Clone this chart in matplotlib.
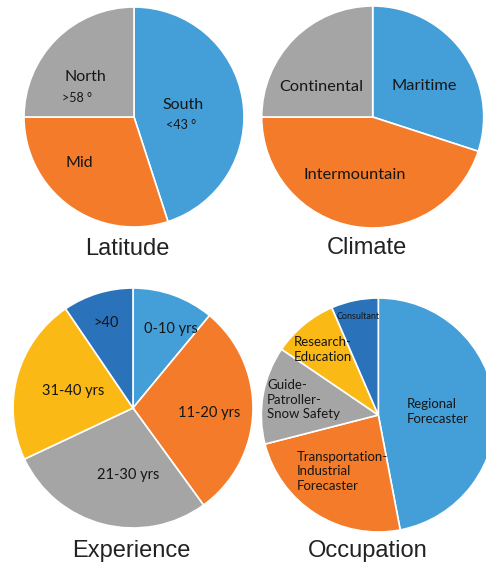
import matplotlib.pyplot as plt

plt.rcParams['font.family'] = ['Lato', 'DejaVu Sans']

W, H = 486, 562

# Цвета секторов
BLUE = '#449FD8'
ORANGE = '#F37B29'
GRAY = '#A6A5A5'
YELLOW = '#FBB916'
DARK = '#2A72BA'

# Данные
lat_labels = ['South\n<43 °', 'Mid', 'North\n>58 °']
lat_values = [45, 30, 25]

climate_labels = ['Maritime', 'Intermountain', 'Continental']
climate_values = [30, 45, 25]

exp_labels = ['0-10 yrs', '11-20 yrs', '21-30 yrs', '31-40 yrs', '>40']
exp_values = [11, 29, 28, 22.5, 9.5]

occ_labels = ['Regional\nForecaster', 'Transportation-\nIndustrial\nForecaster',
              'Guide-\nPatroller-\nSnow Safety', 'Research-\nEducation', 'Consultant']
occ_values = [47, 24, 13.5, 9, 6.5]

fig = plt.figure(figsize=(W / 100, H / 100), dpi=100)


def pie(cx, cy, r, values, colors, title, tx, ty):
    # оси в пикселях: квадрат вокруг центра круга
    ax = fig.add_axes([(cx - r) / W, 1 - (cy + r) / H, 2 * r / W, 2 * r / H])
    ax.pie(values, colors=colors, startangle=90, counterclock=False, radius=1,
           wedgeprops=dict(edgecolor='white', linewidth=1.2))
    ax.set_xlim(-1, 1)
    ax.set_ylim(-1, 1)
    ax.set_aspect('auto')
    ax.axis('off')
    fig.text(tx / W, 1 - ty / H, title, family='Liberation Sans', fontsize=17,
             ha='center', va='baseline', color='#222222')
    return ax


ax1 = pie(134, 117, 110, lat_values, [BLUE, ORANGE, GRAY], 'Latitude', 127.5, 255)
ax2 = pie(372.7, 117, 111, climate_values, [BLUE, ORANGE, GRAY], 'Climate', 367.3, 254.3)
ax3 = pie(133, 408, 120, exp_values, [BLUE, ORANGE, GRAY, YELLOW, DARK], 'Experience', 131.7, 557.3)
ax4 = pie(378.3, 415, 117, occ_values, [BLUE, ORANGE, GRAY, YELLOW, DARK], 'Occupation', 367.5, 556.7)

txt = dict(color='#161616', va='center')

# Latitude
for (x, y), s in zip([(0.45, 0.11), (-0.50, -0.42), (-0.44, 0.36)],
                     ['South', 'Mid', 'North']):
    ax1.text(x, y, s, ha='center', fontsize=11.5, **txt)
ax1.text(0.43, -0.07, '<43 °', ha='center', fontsize=9, **txt)
ax1.text(-0.52, 0.17, '>58 °', ha='center', fontsize=9, **txt)

# Climate
for (x, y), s in zip([(0.46, 0.28), (-0.16, -0.52), (-0.46, 0.27)], climate_labels):
    ax2.text(x, y, s, ha='center', fontsize=11.8, **txt)

# Experience
for (x, y), s in zip([(0.317, 0.656), (0.636, -0.044), (-0.036, -0.558),
                      (-0.50, 0.14), (-0.225, 0.706)], exp_labels):
    ax3.text(x, y, s, ha='center', fontsize=10.5, **txt)

# Occupation
for (x, y), s in zip([(0.24, 0.03), (-0.70, -0.48), (-0.95, 0.13), (-0.72, 0.56)],
                     occ_labels[:4]):
    ax4.text(x, y, s, ha='left', fontsize=9.5, linespacing=1.25, **txt)
ax4.text(-0.17, 0.84, occ_labels[4], ha='center', fontsize=6.5, **txt)

fig.savefig('out.png', dpi=100)
